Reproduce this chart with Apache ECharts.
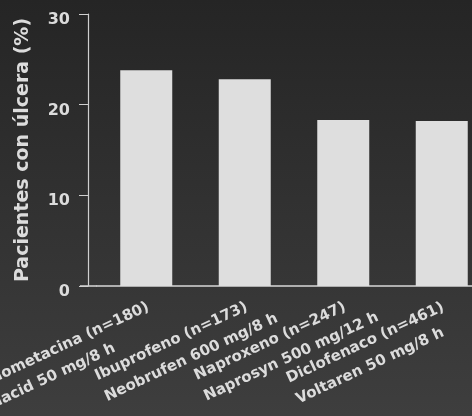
<!DOCTYPE html>
<html>
<head>
<meta charset="utf-8">
<script src="https://cdn.jsdelivr.net/npm/echarts@6/dist/echarts.min.js"></script>
<style>
  html, body { margin: 0; padding: 0; background: #2e2e2e; }
  #chart { width: 472px; height: 416px; }
</style>
</head>
<body>
<div id="chart"></div>
<script>
var farmacos = ['Indometacina (n=180)', 'Ibuprofeno (n=173)', 'Naproxeno (n=247)', 'Diclofenaco (n=461)'];
var marcas = ['Inacid 50 mg/8 h', 'Neobrufen 600 mg/8 h', 'Naprosyn 500 mg/12 h', 'Voltaren 50 mg/8 h'];
var pacientes = [23.8, 22.8, 18.3, 18.2];
var ticksY = [0, 10, 20, 30];

var categorias = farmacos.map(function (f, i) { return f + '\n' + marcas[i]; });

var fuente = 'DejaVu Sans';
var tamEtiqueta = 15;

// las dos lineas de cada etiqueta van alineadas a la izquierda,
// y el bloque termina (mas o menos) donde termina la primera linea
var ctx = document.createElement('canvas').getContext('2d');
ctx.font = 'bold ' + tamEtiqueta + 'px "' + fuente + '"';
var rich = {};
farmacos.forEach(function (f, i) {
  rich['l' + i] = {
    width: Math.ceil(ctx.measureText(f).width) - 8,
    align: 'left',
    color: '#dcdcdc',
    fontFamily: fuente,
    fontSize: tamEtiqueta,
    fontWeight: 'bold',
    lineHeight: 23
  };
});

var gridLeft = 97;
var gridBottom = 130;

var myChart = echarts.init(document.getElementById('chart'));

var option = {
  backgroundColor: new echarts.graphic.LinearGradient(0, 0, 0, 1, [
    { offset: 0, color: '#252525' },
    { offset: 1, color: '#3e3e3e' }
  ]),
  textStyle: { fontFamily: fuente },
  grid: {
    left: gridLeft,
    top: 14,
    right: -19,
    bottom: gridBottom,
    outerBoundsMode: 'none'
  },
  graphic: [{
    type: 'line',
    shape: { x1: 80, y1: 416 - gridBottom, x2: gridLeft, y2: 416 - gridBottom },
    style: { stroke: '#d8d8d8', lineWidth: 1.5 }
  }],
  xAxis: {
    type: 'category',
    data: categorias,
    axisLine: { lineStyle: { color: '#d8d8d8', width: 1.5 } },
    axisTick: { show: false },
    axisLabel: {
      rotate: 25,
      margin: 34,
      interval: 0,
      formatter: function (value, index) {
        var p = value.split('\n');
        return '{l' + index + '|' + p[0] + '}\n{l' + index + '|' + p[1] + '}';
      },
      rich: rich
    }
  },
  yAxis: {
    type: 'value',
    min: 0,
    max: 30,
    interval: 10,
    offset: 9,
    name: 'Pacientes con úlcera (%)',
    nameLocation: 'middle',
    nameGap: 55,
    nameTextStyle: { color: '#dcdcdc', fontSize: 19, fontWeight: 'bold', fontFamily: fuente },
    axisLine: { show: true, lineStyle: { color: '#cfcfcf', width: 1.2 } },
    axisTick: { show: true, length: 9, lineStyle: { color: '#cfcfcf' } },
    axisLabel: {
      margin: 18,
      verticalAlign: 'top',
      lineHeight: 12,
      color: '#dcdcdc',
      fontSize: 16,
      fontWeight: 'bold',
      fontFamily: fuente,
      formatter: function (v) { return ticksY.indexOf(v) >= 0 ? v : ''; }
    },
    splitLine: { show: false }
  },
  series: [{
    name: 'Pacientes con úlcera',
    type: 'bar',
    data: pacientes,
    barWidth: 52,
    itemStyle: { color: '#dedede' }
  }]
};

myChart.setOption(option);
</script>
</body>
</html>
